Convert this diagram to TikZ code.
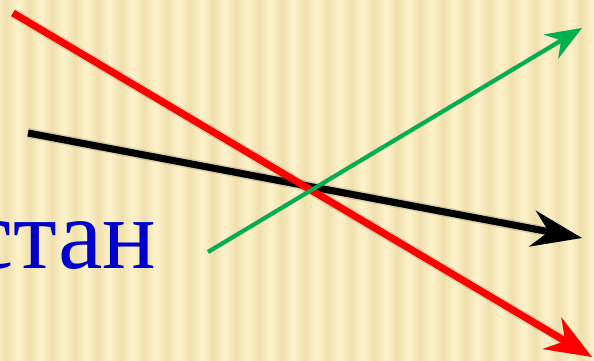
\documentclass[tikz,border=0pt]{standalone}
\usepackage{fontspec}
\setmainfont{Liberation Serif}
\usepackage{tikz}
\usetikzlibrary{arrows.meta}
\definecolor{bglight}{RGB}{252, 240, 200}
\definecolor{bgdark}{RGB}{240, 223, 172}
\definecolor{wordblue}{RGB}{0, 0, 204}
\definecolor{arrowgreen}{RGB}{0, 176, 80}
\tikzset{
  shadowline/.style={line width=#1, black, opacity=0.12},
  ray/.style={line width=#1}
}

\begin{document}
\begin{tikzpicture}[x=1pt, y=-1pt]
  \useasboundingbox (0,0) rectangle (594,361);
  \clip (0,0) rectangle (594,361);
  % Background stripes
  \fill[bglight] (0,0) rectangle (594,361);
  \foreach \i in {0,...,26} {
    \shade[left color=bglight, right color=bgdark] ({\i*23-4},0) rectangle ({\i*23+6},361);
    \shade[left color=bgdark, right color=bglight] ({\i*23+6},0) rectangle ({\i*23+16},361);
  }
  % Word
  \node[anchor=base west, inner sep=0pt, text=wordblue, font=\fontsize{100}{100}\selectfont] (word) at (-31,268) {стан};
  % End points
  \coordinate (blackA) at (28,133);
  \coordinate (blackB) at (582,238);
  \coordinate (redA) at (13,13);
  \coordinate (redB) at (592,357);
  \coordinate (greenA) at (208,252);
  \coordinate (greenB) at (582,28);
  % Shadows
  \foreach \d/\w in {4/10pt, 5/7pt} {
    \begin{scope}[shift={(2,\d)}]
      \draw[shadowline=\w, -{Stealth[length=50pt, width=36pt]}] (blackA) -- (blackB);
      \draw[shadowline=\w, -{Stealth[length=46pt, width=36pt]}] (redA) -- (redB);
    \end{scope}
  }
  \draw[shadowline=5pt, shift={(2,4)}, -{Stealth[length=36pt, width=28pt]}] (greenA) -- (greenB);
  % Arrows
  \draw[ray=7pt, black, -{Stealth[length=50pt, width=36pt]}] (blackA) -- (blackB);
  \draw[ray=7pt, red, -{Stealth[length=46pt, width=36pt]}] (redA) -- (redB);
  \draw[ray=4pt, arrowgreen, -{Stealth[length=36pt, width=28pt]}] (greenA) -- (greenB);
\end{tikzpicture}
\end{document}
